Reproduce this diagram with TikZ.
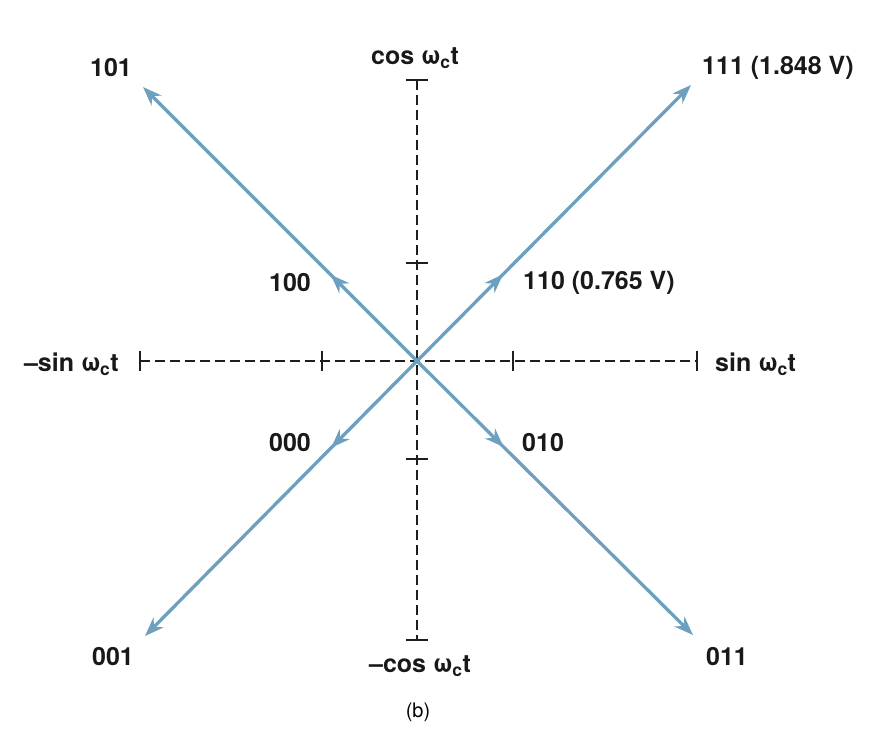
\documentclass[tikz,border=0pt]{standalone}
\usepackage{fontspec}
\setmainfont{TeX Gyre Heros}
\usetikzlibrary{arrows.meta,decorations.markings}
\definecolor{vec}{RGB}{108,160,190}
\definecolor{axcol}{RGB}{30,30,30}
\newcommand\wct{ω\kern-0.5pt\textsubscript{c}t}
\begin{document}
\begin{tikzpicture}[x=1pt,y=-1pt,
 lbl/.style={font=\fontsize{25}{29}\selectfont\bfseries, inner sep=0pt, text=black!90},
 axisline/.style={line width=2.6pt, dash pattern=on 10pt off 5pt, axcol},
 tickmark/.style={line width=2.6pt, axcol},
 vecline/.style={vec, line width=3.3pt, -{Stealth[length=19pt,width=14pt]},
   postaction={decorate},
   decoration={markings, mark=at position 122pt with {\arrow{Stealth[length=19pt,width=14pt]}}}}
]
\useasboundingbox (0,0) rectangle (878,742);
\coordinate (O) at (417,361);
% axis ends and ticks
\coordinate (hl) at (140,361);
\coordinate (hli) at (322,361);
\coordinate (hri) at (513,361);
\coordinate (hr) at (697,361);
\coordinate (vt) at (417,80);
\coordinate (vti) at (417,263);
\coordinate (vbi) at (417,459);
\coordinate (vb) at (417,640);
\draw[axisline] (hl) -- (hr);
\draw[axisline] (vt) -- (vb);
\foreach \c in {hl,hli,hri,hr}
  \draw[tickmark] ([yshift=10pt]\c) -- ([yshift=-10pt]\c);
\foreach \c in {vt,vti,vbi,vb}
  \draw[tickmark] ([xshift=-11pt]\c) -- ([xshift=11pt]\c);
% vector tips
\coordinate (p101) at (143,87);
\coordinate (p111) at (691,85);
\coordinate (p001) at (145,636);
\coordinate (p011) at (693,635);
\draw[vecline] (O) -- (p101);
\draw[vecline] (O) -- (p111);
\draw[vecline] (O) -- (p001);
\draw[vecline] (O) -- (p011);
% labels
\node[lbl] (l101) at (111,68) {101};
\node[lbl, anchor=west] (l111) at (702,68) {111 (1.848 V)};
\node[lbl] (l100) at (290,283) {100};
\node[lbl, anchor=west] (l110) at (523,283) {110 (0.765 V)};
\node[lbl] (l000) at (290,443) {000};
\node[lbl, anchor=west] (l010) at (522,443) {010};
\node[lbl] (l001) at (113,657) {001};
\node[lbl] (l011) at (727,657) {011};
\node[lbl] (lcos) at (415,58) {cos \wct};
\node[lbl, anchor=east] (lmsin) at (119,364) {--sin \wct};
\node[lbl, anchor=west] (lsin) at (715,364) {sin \wct};
\node[lbl] (lmcos) at (420,666) {--cos \wct};
\node[font=\fontsize{20}{24}\selectfont, inner sep=0pt] (lb) at (418,712) {(b)};
\end{tikzpicture}
\end{document}
